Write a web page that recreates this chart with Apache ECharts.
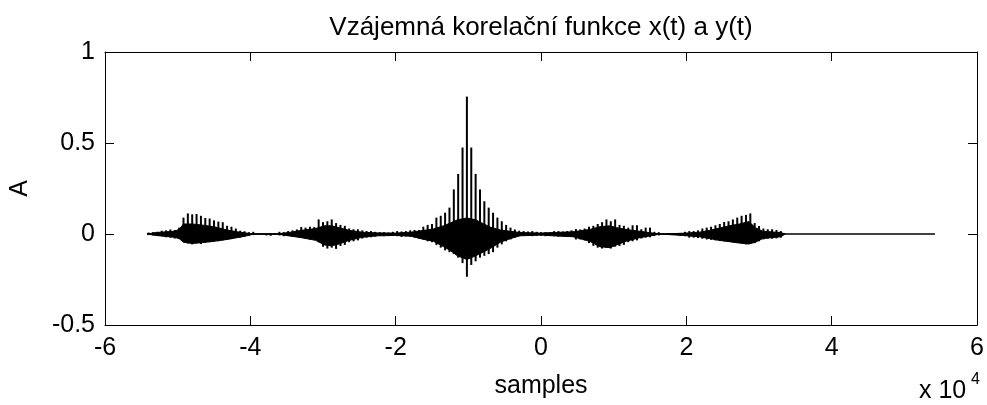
<!DOCTYPE html>
<html>
<head>
<meta charset="utf-8">
<script src="https://cdn.jsdelivr.net/npm/echarts@6/dist/echarts.min.js"></script>
<style>
  html, body { margin: 0; padding: 0; background: #fff; }
  #chart { width: 987px; height: 405px; }
</style>
</head>
<body>
<div id="chart"></div>
<script>
// x in units of 1e4 samples
var xTicks = [-6, -4, -2, 0, 2, 4, 6]
var yTicks = [-0.5, 0, 0.5, 1]

// spike envelope, one stroke every 0.06e4 samples starting at -5.40e4
var spikeStart = -5.40
var spikeStep = 0.06
var spikeHi = [
  0.008, 0.01, 0.012, 0.018, 0.02, 0.025, 0.022, 0.035, 0.09, 0.113,
  0.108, 0.11, 0.1, 0.088, 0.085, 0.075, 0.068, 0.065, 0.045, 0.04,
  0.03, 0.018, 0.015, 0.01, 0.012, 0.002, 0.002, 0.002, 0.002, 0.005,
  0.012, 0.01, 0.016, 0.02, 0.025, 0.038, 0.035, 0.04, 0.038, 0.08,
  0.065, 0.07, 0.08, 0.06, 0.05, 0.045, 0.03, 0.026, 0.026, 0.02,
  0.016, 0.016, 0.012, 0.01, 0.01, 0.008, 0.012, 0.016, 0.014, 0.016,
  0.02, 0.022, 0.022, 0.04, 0.05, 0.055, 0.09, 0.1, 0.117, 0.145,
  0.245, 0.33, 0.475, 0.755, 0.475, 0.33, 0.245, 0.18, 0.145, 0.117,
  0.09, 0.07, 0.05, 0.035, 0.025, 0.018, 0.016, 0.014, 0.016, 0.012,
  0.01, 0.01, 0.008, 0.016, 0.016, 0.014, 0.016, 0.02, 0.027, 0.025,
  0.03, 0.04, 0.045, 0.055, 0.065, 0.08, 0.07, 0.08, 0.05, 0.045,
  0.035, 0.048, 0.048, 0.026, 0.035, 0.035, 0.012, 0.01, 0.002, 0.002,
  0.002, 0.002, 0.006, 0.012, 0.016, 0.016, 0.02, 0.03, 0.035, 0.04,
  0.048, 0.055, 0.066, 0.07, 0.08, 0.09, 0.1, 0.105, 0.113, 0.06,
  0.044, 0.03, 0.026, 0.026, 0.022, 0.016
]
var spikeLo = [
  -0.006, -0.008, -0.01, -0.012, -0.018, -0.02, -0.025, -0.028, -0.045, -0.052,
  -0.057, -0.05, -0.055, -0.048, -0.045, -0.042, -0.04, -0.035, -0.032, -0.028,
  -0.022, -0.02, -0.015, -0.01, -0.006, -0.002, -0.003, -0.008, -0.01, -0.005,
  -0.008, -0.012, -0.01, -0.015, -0.012, -0.02, -0.025, -0.03, -0.03, -0.045,
  -0.07, -0.08, -0.075, -0.082, -0.066, -0.06, -0.045, -0.04, -0.035, -0.025,
  -0.02, -0.018, -0.015, -0.01, -0.012, -0.01, -0.008, -0.012, -0.016, -0.014,
  -0.016, -0.02, -0.025, -0.03, -0.04, -0.045, -0.06, -0.075, -0.09, -0.1,
  -0.11, -0.13, -0.16, -0.235, -0.17, -0.15, -0.13, -0.12, -0.11, -0.1,
  -0.075, -0.057, -0.04, -0.03, -0.02, -0.012, -0.011, -0.01, -0.012, -0.01,
  -0.01, -0.012, -0.01, -0.012, -0.015, -0.014, -0.015, -0.016, -0.03, -0.03,
  -0.035, -0.05, -0.065, -0.075, -0.08, -0.075, -0.08, -0.07, -0.066, -0.06,
  -0.045, -0.04, -0.035, -0.025, -0.02, -0.018, -0.01, -0.008, -0.002, -0.002,
  -0.002, -0.004, -0.01, -0.012, -0.02, -0.02, -0.022, -0.026, -0.03, -0.032,
  -0.035, -0.038, -0.04, -0.044, -0.046, -0.048, -0.05, -0.057, -0.055, -0.05,
  -0.04, -0.03, -0.026, -0.026, -0.024, -0.02
]

// solid core of the oscillation (dense part)
var coreX = [
  -5.42, -5.30, -5.05, -4.98, -4.92, -4.80, -4.68, -4.50, -4.32, -4.18, -4.05, -3.95,
  -3.64, -3.44, -3.30, -3.10, -2.98, -2.88, -2.78, -2.64, -2.46, -2.25, -2.00,
  -1.79, -1.61, -1.48, -1.34, -1.25, -1.15, -1.02, -0.90, -0.80, -0.70, -0.56, -0.42, -0.29,
  0.00, 0.17, 0.44, 0.67, 0.81, 0.95, 1.04, 1.17, 1.36, 1.54, 1.63,
  1.95, 2.18, 2.32, 2.45, 2.59, 2.73, 2.86, 2.95, 3.05, 3.30, 3.36
]
var coreTop = [
  0, 0.008, 0.015, 0.025, 0.055, 0.055, 0.05, 0.04, 0.022, 0.012, 0.005, 0,
  0, 0.01, 0.02, 0.03, 0.045, 0.045, 0.035, 0.02, 0.01, 0.006, 0.005,
  0.01, 0.02, 0.028, 0.045, 0.06, 0.078, 0.088, 0.078, 0.058, 0.038, 0.022, 0.015, 0.008,
  0.005, 0.008, 0.012, 0.025, 0.04, 0.045, 0.035, 0.025, 0.015, 0.005, 0,
  0.004, 0.01, 0.02, 0.032, 0.045, 0.055, 0.068, 0.035, 0.015, 0.008, 0
]
var coreBot = [
  0, -0.008, -0.018, -0.025, -0.045, -0.052, -0.048, -0.04, -0.03, -0.02, -0.01, 0,
  0, -0.012, -0.02, -0.035, -0.06, -0.065, -0.055, -0.035, -0.018, -0.01, -0.008,
  -0.012, -0.03, -0.04, -0.07, -0.09, -0.12, -0.14, -0.12, -0.1, -0.08, -0.045, -0.025, -0.01,
  -0.006, -0.01, -0.015, -0.04, -0.07, -0.075, -0.06, -0.04, -0.02, -0.008, 0,
  -0.008, -0.015, -0.025, -0.035, -0.042, -0.05, -0.055, -0.045, -0.025, -0.015, 0
]

// flat part of the trace
var baseX = [-5.42, 5.42]
var baseY = [0, 0]

var spikeData = spikeHi.map(function (h, i) {
  return [spikeStart + i * spikeStep, h, spikeLo[i]]
})

var font = 'Liberation Sans, Arial, Helvetica, sans-serif'

var chart = echarts.init(document.getElementById('chart'))
chart.setOption({
  animation: false,
  backgroundColor: '#fff',
  grid: { left: 103, right: 8, top: 52, bottom: 80, show: false },
  xAxis: [
    {
      type: 'value',
      position: 'bottom',
      min: xTicks[0],
      max: xTicks[xTicks.length - 1],
      interval: 2,
      name: 'samples',
      nameLocation: 'middle',
      nameGap: 49,
      nameTextStyle: { fontFamily: font, fontSize: 25, color: '#000' },
      axisLine: { onZero: false, lineStyle: { color: '#000', width: 1 } },
      axisTick: { inside: true, length: 9, lineStyle: { color: '#000' } },
      axisLabel: { fontFamily: font, fontSize: 25, color: '#000', margin: 11 },
      splitLine: { show: false }
    },
    {
      type: 'value',
      position: 'top',
      min: xTicks[0],
      max: xTicks[xTicks.length - 1],
      interval: 2,
      axisLine: { onZero: false, lineStyle: { color: '#000', width: 1 } },
      axisTick: { inside: true, length: 9, lineStyle: { color: '#000' } },
      axisLabel: { show: false },
      splitLine: { show: false }
    }
  ],
  yAxis: [
    {
      type: 'value',
      position: 'left',
      min: yTicks[0],
      max: yTicks[yTicks.length - 1],
      interval: 0.5,
      name: 'A',
      nameLocation: 'middle',
      nameGap: 72,
      nameTextStyle: { fontFamily: font, fontSize: 25, color: '#000' },
      axisLine: { onZero: false, lineStyle: { color: '#000', width: 1 } },
      axisTick: { inside: true, length: 9, lineStyle: { color: '#000' } },
      axisLabel: { fontFamily: font, fontSize: 25, color: '#000', margin: 10 },
      splitLine: { show: false }
    },
    {
      type: 'value',
      position: 'right',
      min: yTicks[0],
      max: yTicks[yTicks.length - 1],
      interval: 0.5,
      axisLine: { onZero: false, lineStyle: { color: '#000', width: 1 } },
      axisTick: { inside: true, length: 9, lineStyle: { color: '#000' } },
      axisLabel: { show: false },
      splitLine: { show: false }
    }
  ],
  graphic: [
    // title centred over the plot area, not the page
    {
      type: 'text', x: 541, y: 28,
      style: { text: 'Vzájemná korelační funkce x(t) a y(t)', font: '26px ' + font, fill: '#000', align: 'center', verticalAlign: 'middle' }
    },
    { type: 'text', left: 919, top: 379, style: { text: 'x 10', font: '25px ' + font, fill: '#000' } },
    { type: 'text', left: 971, top: 372, style: { text: '4', font: '16px ' + font, fill: '#000' } }
  ],
  series: [
    {
      name: 'base',
      type: 'line',
      symbol: 'none',
      data: baseX.map(function (x, i) { return [x, baseY[i]] }),
      lineStyle: { color: '#000', width: 1.3 }
    },
    {
      name: 'coreTop',
      type: 'line',
      symbol: 'none',
      data: coreX.map(function (x, i) { return [x, coreTop[i]] }),
      lineStyle: { color: '#000', width: 1 },
      areaStyle: { color: '#000', opacity: 1 }
    },
    {
      name: 'coreBot',
      type: 'line',
      symbol: 'none',
      data: coreX.map(function (x, i) { return [x, coreBot[i]] }),
      lineStyle: { color: '#000', width: 1 },
      areaStyle: { color: '#000', opacity: 1 }
    },
    {
      name: 'spikes',
      type: 'custom',
      data: spikeData,
      encode: { x: 0, y: [1, 2] },
      renderItem: function (params, api) {
        var x = api.value(0)
        var top = api.coord([x, api.value(1)])
        var bot = api.coord([x, api.value(2)])
        return {
          type: 'line',
          shape: { x1: top[0], y1: top[1], x2: bot[0], y2: bot[1] },
          style: { stroke: '#000', lineWidth: 2 }
        }
      }
    }
  ]
})
</script>
</body>
</html>
